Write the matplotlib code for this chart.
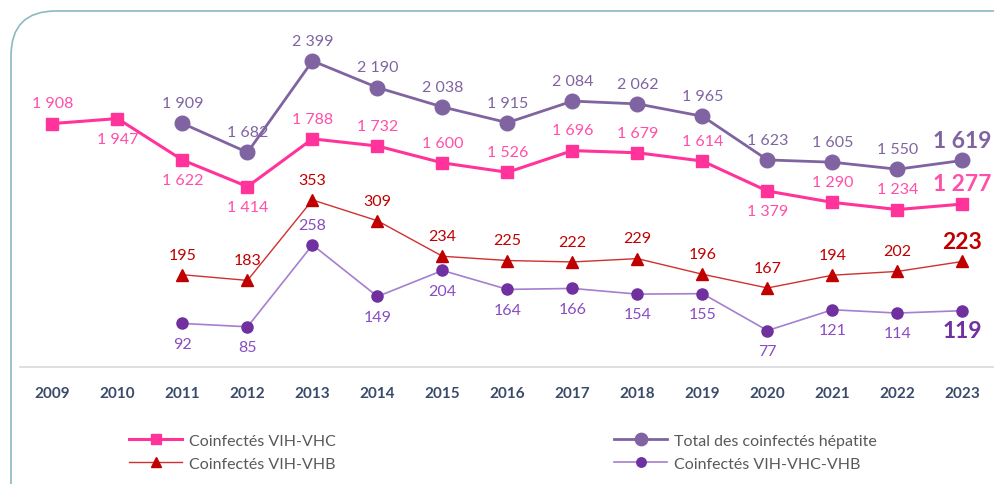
import numpy as np
import matplotlib
matplotlib.use("Agg")
from matplotlib import pyplot as plt
from matplotlib.patches import FancyBboxPatch

plt.rcParams['font.family'] = ['Lato', 'DejaVu Sans']

# Data
years = ['2009', '2010', '2011', '2012', '2013', '2014', '2015', '2016',
         '2017', '2018', '2019', '2020', '2021', '2022', '2023']
vih_vhc = [1908, 1947, 1622, 1414, 1788, 1732, 1600, 1526, 1696, 1679, 1614, 1379, 1290, 1234, 1277]
total_hep = [np.nan, np.nan, 1909, 1682, 2399, 2190, 2038, 1915, 2084, 2062, 1965, 1623, 1605, 1550, 1619]
vih_vhb = [np.nan, np.nan, 195, 183, 353, 309, 234, 225, 222, 229, 196, 167, 194, 202, 223]
vih_vhc_vhb = [np.nan, np.nan, 92, 85, 258, 149, 204, 164, 166, 154, 155, 77, 121, 114, 119]

c_vhc = '#FF3399'
c_vhc_lbl = '#FF4FA8'
c_tot = '#8064A2'
c_vhb = '#C00000'
c_vhb_line = '#D03030'
c_both = '#7030A0'
c_both_line = '#A57FD0'
c_both_lbl = '#8A4CC0'


def fmt(v):
    return f"{int(v):,}".replace(",", " ")


def add_labels(ax, vals, where, color, small_color=None):
    for i, v in enumerate(vals):
        if np.isnan(v):
            continue
        dy = 14.5 if where[i] == 'a' else -14.5
        last = i == len(vals) - 1
        ax.annotate(fmt(v), (i, v), xytext=(0, dy), textcoords='offset points',
                    ha='center', va='center',
                    color=color if (last or small_color is None) else small_color,
                    fontsize=16.5 if last else 11.5,
                    fontweight='bold' if last else 'normal')


fig = plt.figure(figsize=(9.95, 4.85), dpi=100)

# rounded frame
frame = FancyBboxPatch((11 / 995, -0.2), 1.2, (473 / 485) + 0.2,
                       boxstyle="round,pad=0,rounding_size=0.045",
                       transform=fig.transFigure, fill=False,
                       edgecolor='#8DB8C0', linewidth=1.2, mutation_aspect=995 / 485)
fig.patches.append(frame)

ax = fig.add_axes([20 / 995, 117 / 485, 975 / 995, 344.5 / 485])
ax2 = ax.twinx()
x = np.arange(len(years))

l1, = ax.plot(x, vih_vhc, color=c_vhc, lw=2.2, marker='s', ms=9, zorder=3)
l2, = ax.plot(x, total_hep, color=c_tot, lw=2.0, marker='o', ms=10.5, zorder=3)
l3, = ax2.plot(x, vih_vhb, color=c_vhb_line, lw=1.0, marker='^', ms=8,
               markerfacecolor=c_vhb, markeredgecolor=c_vhb, zorder=3)
l4, = ax2.plot(x, vih_vhc_vhb, color=c_both_line, lw=1.2, marker='o', ms=8,
               markerfacecolor=c_both, markeredgecolor=c_both, zorder=3)

ax.set_xlim(-0.5, len(years) - 0.5)
ax.set_ylim(0, 2700)
ax2.set_ylim(0, 728)

vhc_pos = ['a', 'b', 'b', 'b', 'a', 'a', 'a', 'a', 'a', 'a', 'a', 'b', 'a', 'a', 'a']
tot_pos = ['a'] * 15
vhb_pos = ['a'] * 15
both_pos = ['b', 'b', 'b', 'b', 'a', 'b', 'b', 'b', 'b', 'b', 'b', 'b', 'b', 'b', 'b']

add_labels(ax, vih_vhc, vhc_pos, c_vhc_lbl)
add_labels(ax, total_hep, tot_pos, c_tot)
add_labels(ax2, vih_vhb, vhb_pos, c_vhb)
add_labels(ax2, vih_vhc_vhb, both_pos, c_both, small_color=c_both_lbl)

for a in (ax, ax2):
    for s in ('top', 'left', 'right'):
        a.spines[s].set_visible(False)
    a.set_yticks([])
ax2.spines['bottom'].set_visible(False)
ax.spines['bottom'].set_color('#D9D9D9')
ax.spines['bottom'].set_linewidth(1.2)
ax.set_xticks(x)
ax.set_xticklabels(years, fontsize=11, fontweight='bold', color='#3A4A6B')
ax.tick_params(axis='x', length=0, pad=14)
ax.patch.set_visible(False)

leg_kw = dict(frameon=False, fontsize=11.5, handlelength=3.3, handletextpad=0.45,
              labelspacing=0.55, labelcolor='#595959', markerscale=0.85)
fig.legend([l1, l3], ['Coinfectés VIH-VHC', 'Coinfectés VIH-VHB'],
           loc='upper left', bbox_to_anchor=(115 / 995, 1 - 420 / 485), **leg_kw)
fig.legend([l2, l4], ['Total des coinfectés hépatite', 'Coinfectés VIH-VHC-VHB'],
           loc='upper left', bbox_to_anchor=(600 / 995, 1 - 420 / 485), **leg_kw)

fig.savefig('out.png', dpi=100)
